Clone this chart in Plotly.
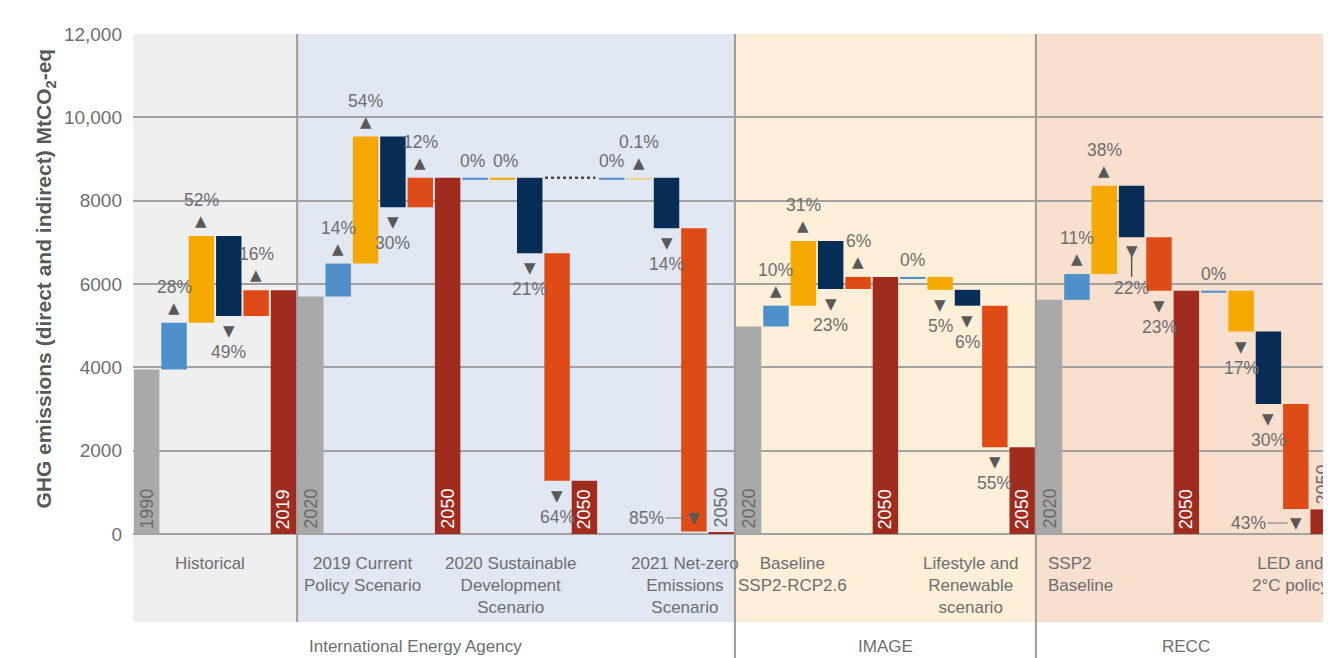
import plotly.graph_objects as go

# 44 bars, left to right:
# Historical | IEA (CPS, SDS, NZE) | IMAGE (Baseline, LRS) | RECC (SSP2, LED)
bar_kind = [
    "start", "pop", "floor", "energy", "carbon", "end",
    "start", "pop", "floor", "energy", "carbon", "end",
    "pop", "floor", "energy", "carbon", "end",
    "pop", "floor_nz", "energy", "carbon", "end",
    "start", "pop", "floor", "energy", "carbon", "end",
    "pop", "floor", "energy", "carbon", "end",
    "start", "pop", "floor", "energy", "carbon", "end",
    "pop", "floor", "energy", "carbon", "end",
]
bar_low = [
    0, 3950, 5070, 5230, 5230, 0,
    0, 5700, 6490, 7840, 7840, 0,
    8500, 8500, 6740, 1280, 0,
    8500, 8500, 7340, 60, 0,
    0, 4980, 5480, 5880, 5880, 0,
    6120, 5860, 5480, 2080, 0,
    0, 5620, 6240, 7120, 5840, 0,
    5790, 4860, 3120, 600, 0,
]
bar_high = [
    3950, 5070, 7150, 7150, 5850, 5850,
    5700, 6490, 9540, 9540, 8550, 8550,
    8550, 8550, 8550, 6740, 1280,
    8550, 8550, 8550, 7340, 40,
    4980, 5480, 7030, 7030, 6170, 6170,
    6170, 6170, 5860, 5480, 2080,
    5620, 6240, 8360, 8360, 7120, 5840,
    5840, 5840, 4860, 3120, 590,
]
bar_pct = [
    "", "28%", "52%", "49%", "16%", "",
    "", "14%", "54%", "30%", "12%", "",
    "0%", "0%", "21%", "64%", "",
    "0%", "0.1%", "14%", "85%", "",
    "", "10%", "31%", "23%", "6%", "",
    "0%", "5%", "6%", "55%", "",
    "", "11%", "38%", "22%", "23%", "",
    "0%", "17%", "30%", "43%", "",
]
bar_sign = [
    0, 1, 1, -1, 1, 0,
    0, 1, 1, -1, 1, 0,
    0, 0, -1, -1, 0,
    0, 1, -1, -1, 0,
    0, 1, 1, -1, 1, 0,
    0, -1, -1, -1, 0,
    0, 1, 1, -1, -1, 0,
    0, -1, -1, -1, 0,
]
bar_year = [
    "1990", "", "", "", "", "2019",
    "2020", "", "", "", "", "2050",
    "", "", "", "", "2050",
    "", "", "", "", "2050",
    "2020", "", "", "", "", "2050",
    "", "", "", "", "2050",
    "2020", "", "", "", "", "2050",
    "", "", "", "", "2050",
]
scenarios = [
    "Historical",
    "2019 Current<br>Policy Scenario",
    "2020 Sustainable<br>Development<br>Scenario",
    "2021 Net-zero<br>Emissions<br>Scenario",
    "Baseline<br>SSP2-RCP2.6",
    "Lifestyle and<br>Renewable<br>scenario",
    "SSP2<br>Baseline",
    "LED and<br>2°C policy",
]
groups = ["International Energy Agency", "IMAGE", "RECC"]
y_ticks = [0, 2000, 4000, 6000, 8000, 10000, 12000]
y_ticktext = ["0", "2000", "4000", "6000", "8000", "10,000", "12,000"]

# ---------------------------------------------------------------------
W, H = 1331, 658
OFF = 8                      # page margin around the figure
L, R, T, B = 125, 0, 26, 44
FONT = "Liberation Sans, Arial, sans-serif"
GREY_TXT = "#6d6e71"
TRI = "#58595b"

colors = {
    "start": "#a9a9a9",
    "pop": "#4f8fca",
    "floor": "#f5a800",
    "floor_nz": "#f2d48a",
    "energy": "#052d55",
    "carbon": "#de4b17",
    "end": "#a02b1f",
}


def px(xs):
    """screen x -> paper x"""
    return (xs - OFF - L) / (W - L - R)


def py(ys):
    """screen y -> paper y"""
    return (H - B - (ys - OFF)) / (H - T - B)


fig = go.Figure()

for kind, col in colors.items():
    idx = [i for i, k in enumerate(bar_kind) if k == kind]
    fig.add_trace(
        go.Bar(
            x=idx,
            y=[bar_high[i] - bar_low[i] for i in idx],
            base=[bar_low[i] for i in idx],
            width=0.93,
            marker=dict(color=col, line=dict(width=0)),
            showlegend=False,
            hoverinfo="skip",
        )
    )

# dotted connector between SDS and NZE starting levels
fig.add_trace(
    go.Scatter(
        x=[14.56, 16.4],
        y=[bar_high[14], bar_high[17]],
        mode="lines",
        line=dict(color="#4a4a4a", width=2.5, dash="dot"),
        showlegend=False,
        hoverinfo="skip",
    )
)

# panel backgrounds and separators
panels = [(-0.5, 5.5, "#efefef"), (5.5, 21.5, "#e1e7f3"),
          (21.5, 32.5, "#fdefd8"), (32.5, 43.6, "#f9dfcd")]
shapes = []
for x0, x1, c in panels:
    shapes.append(dict(type="rect", xref="x", yref="paper", x0=x0, x1=x1,
                       y0=0, y1=1, fillcolor=c, line=dict(width=0), layer="below"))
shapes.append(dict(type="line", xref="x", yref="paper", x0=5.5, x1=5.5,
                   y0=0, y1=1, line=dict(color="#9a9a9a", width=2)))
for xs in (21.5, 32.5):
    shapes.append(dict(type="line", xref="x", yref="paper", x0=xs, x1=xs,
                       y0=py(H + OFF), y1=1, line=dict(color="#9a9a9a", width=2)))

ann = []
lab_font = dict(family=FONT, size=17.5, color=GREY_TXT)
tri_font = dict(family="DejaVu Sans", size=15, color=TRI)


def add(x, y, text, font, yshift=0, xshift=0, **kw):
    d = dict(x=x, y=y, text=text, font=font, yshift=yshift, xshift=xshift,
             showarrow=False, xref="x", yref="y")
    d.update(kw)
    ann.append(d)


LEADER = {20: 16, 42: -14}   # bars whose label sits left of the arrow
STEM = {36}


def is_flat(j):
    return 0 <= j < len(bar_pct) and bar_pct[j] and bar_sign[j] == 0


for i, (lo, hi, pct, sign) in enumerate(zip(bar_low, bar_high, bar_pct, bar_sign)):
    if not pct:
        continue
    if i in LEADER:
        ty = 0 if LEADER[i] > 0 else lo
        add(i, ty, "▼", tri_font, yshift=LEADER[i])
        ann.append(dict(x=i, y=ty, yshift=LEADER[i], xref="x", yref="y",
                        text=pct, font=lab_font, showarrow=True, arrowhead=0,
                        arrowwidth=1.2, arrowcolor="#777777", ax=-47, ay=0,
                        standoff=8))
    elif i in STEM:
        add(i, lo, "▼", tri_font, yshift=-14)
        ann.append(dict(x=i, y=lo, xref="x", yref="y", text=pct, font=lab_font,
                        showarrow=True, arrowhead=0, arrowwidth=1.5,
                        arrowcolor="#555555", ax=0, ay=51, standoff=18))
    elif sign > 0:
        add(i, hi, "▲", tri_font, yshift=15)
        add(i, hi, pct, lab_font, yshift=36)
    elif sign < 0:
        add(i, lo, "▼", tri_font, yshift=-15)
        add(i, lo, pct, lab_font, yshift=-36)
    else:
        nudge = -3 if is_flat(i + 1) else (3 if is_flat(i - 1) else 0)
        add(i, hi, pct, lab_font, yshift=17, xshift=nudge)

# year labels on start / end bars
for i, (hi, year, kind) in enumerate(zip(bar_high, bar_year, bar_kind)):
    if not year:
        continue
    inside = hi > 1000
    col = "white" if (kind == "end" and inside) else "#6a6a6a"
    add(i, 0 if inside else hi, year, dict(family=FONT, size=18, color=col),
        yshift=3, textangle=-90, yanchor="bottom")

# scenario labels
cat_x = [2.3, 7.9, 13.3, 19.66, 23.6, 30.1, 32.87, 41.79]
for k, (x, name) in enumerate(zip(cat_x, scenarios)):
    left = k == 6
    add(x, 0, name, dict(family=FONT, size=17, color=GREY_TXT), yshift=-18,
        yanchor="top", xanchor="left" if left else "center",
        align="left" if left else "center")

# model / agency labels
for (x, xanchor, xshift), g in zip([(5.5, "left", 10), (27, "center", 0), (38, "center", 0)], groups):
    ann.append(dict(x=x, y=py(646), xref="x", yref="paper", text=g,
                    xanchor=xanchor, yanchor="middle", xshift=xshift,
                    showarrow=False,
                    font=dict(family=FONT, size=17, color=GREY_TXT)))

# y axis title
ann.append(dict(x=px(45), y=6130, xref="paper", yref="y", textangle=-90,
                xanchor="center", yanchor="middle",
                text="<b>GHG emissions (direct and indirect) MtCO<sub>2</sub>-eq</b>",
                showarrow=False, font=dict(family=FONT, size=21, color="#58595b")))

fig.update_layout(
    width=W,
    height=H,
    margin=dict(l=L, r=R, t=T, b=B),
    paper_bgcolor="white",
    plot_bgcolor="white",
    barmode="overlay",
    shapes=shapes,
    annotations=ann,
    xaxis=dict(range=[-0.5, -0.5 + (W - L - R) / 27.36], showgrid=False,
               zeroline=False, showticklabels=False, fixedrange=True),
    yaxis=dict(range=[-2112, 12000], tickvals=y_ticks, ticktext=y_ticktext,
               showgrid=True, gridcolor="#a2a2a2", gridwidth=1.6, zeroline=False,
               tickfont=dict(family=FONT, size=19, color=GREY_TXT),
               ticklabelstandoff=10, fixedrange=True),
)

fig.write_html("out.html")
